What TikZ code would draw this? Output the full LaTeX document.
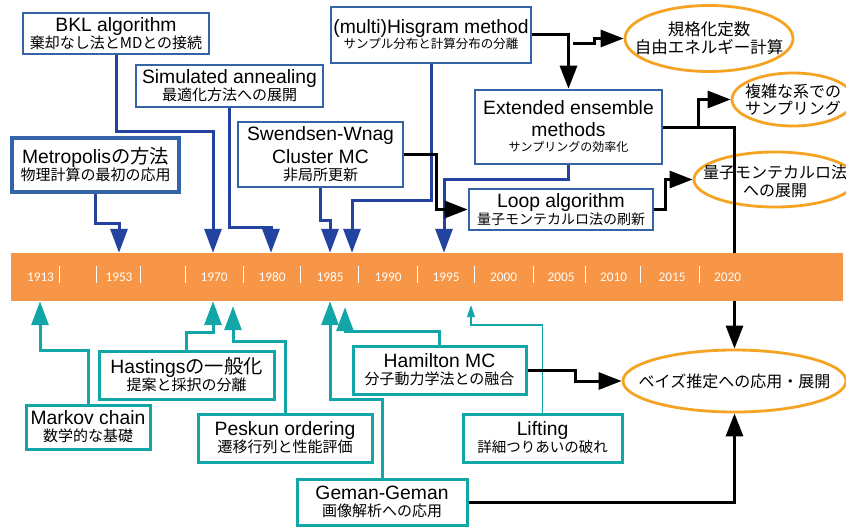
\documentclass[tikz,border=0pt]{standalone}
\usepackage{fontspec}
\setmainfont{Liberation Sans}
\newfontfamily\jpfont{Noto Sans CJK JP}
\newfontfamily\yrfont{Carlito}
\usetikzlibrary{arrows.meta,shapes.geometric,positioning}
\definecolor{boxblue}{RGB}{52,99,168}
\definecolor{arrblue}{RGB}{36,66,160}
\definecolor{tealc}{RGB}{18,166,168}
\definecolor{barorange}{RGB}{247,150,70}
\definecolor{ovalorange}{RGB}{245,163,35}
\newcommand\jsub[2][15]{{\jpfont\fontsize{#1}{17}\selectfont #2}}
\newcommand\jp[1]{{\jpfont #1}}
\tikzset{
  box/.style={rectangle, fill=white, align=center, inner sep=0pt, font=\fontsize{19.3}{17}\selectfont},
  bluebox/.style={box, draw=boxblue, line width=2.6pt},
  tealbox/.style={box, draw=tealc, line width=3pt},
  oval/.style={ellipse, draw=ovalorange, line width=2.8pt, inner sep=0pt},
  ovaltext/.style={align=center, inner sep=0pt, font=\jpfont\fontsize{16.5}{18}\selectfont},
  bluearr/.style={draw=arrblue, line width=3pt, -{Triangle[width=17pt,length=24pt]}},
  tealarr/.style={draw=tealc, line width=3pt, -{Triangle[width=17pt,length=24pt]}},
  thinarr/.style={draw=tealc, line width=1.1pt, -{Triangle[width=8pt,length=12pt]}},
  blkarr/.style={draw=black, line width=3pt, -{Triangle[width=17pt,length=23pt]}},
  yearlbl/.style={text=white, inner sep=0pt, font=\yrfont\fontsize{13.3}{14}\selectfont},
  sepline/.style={draw=white, line width=0.9pt}
}

\begin{document}
\begin{tikzpicture}[x=1pt, y=-1pt]
    \useasboundingbox (0,0) rectangle (846,527);
    % upper boxes
    \node[bluebox, minimum width=186pt, minimum height=41pt] (bkl) at (116,33.5)
        {BKL algorithm\\\jsub{棄却なし法とMDとの接続}};
    \node[bluebox, line width=4.7pt, minimum width=167pt, minimum height=54pt] (metro) at (95.5,165)
        {Metropolis\jp{の方法}\\\jsub{物理計算の最初の応用}};
    \node[bluebox, minimum width=187pt, minimum height=42pt] (anneal) at (229.5,86)
        {Simulated annealing\\\jsub{最適化方法への展開}};
    \node[bluebox, minimum width=165pt, minimum height=65pt] (swend) at (320.5,154.5)
        {Swendsen-Wnag\\[4pt]Cluster MC\\\jsub{非局所更新}};
    \node[bluebox, minimum width=200pt, minimum height=56pt] (hist) at (431,35)
        {(multi)Hisgram method\\[-2pt]\jsub[12.5]{サンプル分布と計算分布の分離}};
    \node[bluebox, minimum width=187pt, minimum height=74pt] (ext) at (568.5,127)
        {Extended ensemble\\[5pt]methods\\[-2pt]\jsub[12]{サンプリングの効率化}};
    \node[bluebox, minimum width=184pt, minimum height=41pt] (loop) at (561,209.5)
        {Loop algorithm\\\jsub[14]{量子モンテカルロ法の刷新}};
    % ellipses
    \node[oval, minimum width=168pt, minimum height=66pt] (norm) at (709,38.5) {};
    \node[ovaltext] (normt) at (norm) {規格化定数\\自由エネルギー計算};
    \node[oval, minimum width=122pt, minimum height=53pt] (cplx) at (793,99.5) {};
    \node[ovaltext, font=\jpfont\fontsize{16}{17}\selectfont] (cplxt) at (cplx) {複雑な系での\\サンプリング};
    \node[oval, minimum width=162pt, minimum height=55pt] (qmc) at (775,179.5) {};
    \node[ovaltext, font=\jpfont\fontsize{16}{18}\selectfont] (qmct) at ([yshift=-2pt]qmc) {量子モンテカルロ法\\への展開};
    \node[oval, minimum width=223pt, minimum height=62pt] (bayes) at (734.5,381) {};
    \node[ovaltext, font=\jpfont\fontsize{16}{18}\selectfont] (bayest) at (bayes) {ベイズ推定への応用・展開};
    % lower boxes
    \node[tealbox, minimum width=124pt, minimum height=44pt] (markov) at (88,427)
        {Markov chain\\\jsub{数学的な基礎}};
    \node[tealbox, minimum width=175pt, minimum height=48pt] (hast) at (186.5,375)
        {Hastings\jp{の一般化}\\\jsub{提案と採択の分離}};
    \node[tealbox, minimum width=174pt, minimum height=48pt] (pesk) at (285,438)
        {Peskun ordering\\\jsub{遷移行列と性能評価}};
    \node[tealbox, minimum width=173pt, minimum height=48pt] (ham) at (439.5,370)
        {Hamilton MC\\\jsub{分子動力学法との融合}};
    \node[tealbox, minimum width=159pt, minimum height=48pt] (lift) at (542.5,438)
        {Lifting\\\jsub[14.5]{詳細つりあいの破れ}};
    \node[tealbox, minimum width=170pt, minimum height=46pt] (geman) at (382,502)
        {Geman-Geman\\\jsub{画像解析への応用}};
    % goes behind the bar
    \draw[blkarr] (ext.east) -| (bayes.north);
    % time bar
    \node[fill=barorange, minimum width=832pt, minimum height=48pt, inner sep=0pt] (bar) at (427,277) {};
    \foreach \yr/\xp in {1913/40.5, 1953/119, 1970/214, 1980/272, 1985/330, 1990/388,
                         1995/446, 2000/503.5, 2005/561, 2010/613.6, 2015/672, 2020/727.5}
        \node[yearlbl] (y\yr) at (\xp,277) {\yr};
    \foreach \xp in {59,96,140,185,243,300.6,358,417,474,533,585.5,640,699}
        \draw[sepline] (\xp,266) -- (\xp,283);
    % blue arrows
    \draw[bluearr] (metro.south) |- (119,223) -- (119,0 |- bar.north);
    \draw[bluearr] (bkl.south) |- (213,131) -- (213,0 |- bar.north);
    \draw[bluearr] (anneal.south) |- (271,227) -- (271,0 |- bar.north);
    \draw[bluearr] (swend.south) |- (330,220) -- (330,0 |- bar.north);
    \draw[bluearr] (hist.south) |- (352,200) -- (352,0 |- bar.north);
    \draw[bluearr] (ext.south) |- (444,179) -- (444,0 |- bar.north);
    % teal arrows
    \draw[tealarr] (markov.north) |- (40,350) -- (40,0 |- bar.south);
    \draw[tealarr] (hast.north) |- (213,332) -- (213,0 |- bar.south);
    \draw[tealarr, shorten >=5pt] (pesk.north) |- (233,341) -- (233,0 |- bar.south);
    \draw[tealarr] (geman.north) |- (330,399) -- (330,0 |- bar.south);
    \draw[tealarr, shorten >=6pt] (ham.north) |- (345,331) -- (345,0 |- bar.south);
    \draw[thinarr, shorten >=4pt] (lift.north) |- (471,325) -- (471,0 |- bar.south);
    % black arrows
    \draw[blkarr] (swend.east) -| (436,0 |- loop.west) -- (loop.west);
    \draw[blkarr] (hist.east) -| (ext.north);
    \coordinate (hb) at (573,44);
    \draw[blkarr] (hb) -- (594,44) |- (norm.west);
    \coordinate (eb) at (698,127);
    \draw[blkarr] (eb) |- (cplx.west);
    \draw[blkarr] (loop.east) -| (665,0 |- qmc.west) -- (qmc.west);
    \draw[blkarr] (ham.east) -| (575,0 |- bayes.west) -- (bayes.west);
    \draw[blkarr] (geman.east) -| (bayes.south);
\end{tikzpicture}
\end{document}
